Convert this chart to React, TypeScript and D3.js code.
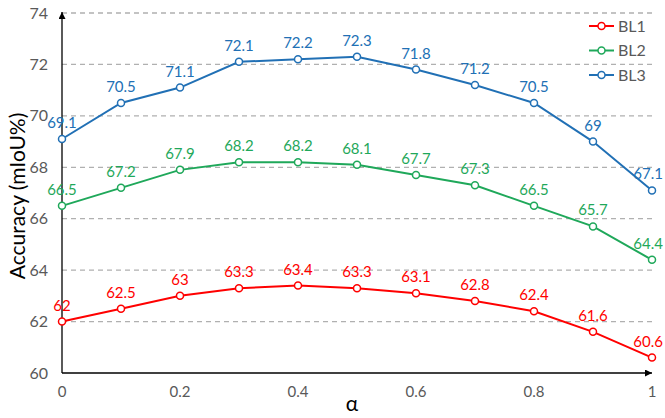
import React from "react";
import * as d3 from "d3";

const alphas = [0, 0.1, 0.2, 0.3, 0.4, 0.5, 0.6, 0.7, 0.8, 0.9, 1];
const bl1 = [62, 62.5, 63, 63.3, 63.4, 63.3, 63.1, 62.8, 62.4, 61.6, 60.6];
const bl2 = [66.5, 67.2, 67.9, 68.2, 68.2, 68.1, 67.7, 67.3, 66.5, 65.7, 64.4];
const bl3 = [69.1, 70.5, 71.1, 72.1, 72.2, 72.3, 71.8, 71.2, 70.5, 69, 67.1];
const seriesNames = ["BL1", "BL2", "BL3"];
const seriesColors = ["#ff0000", "#1fa85a", "#2170b5"];
const yTicks = [60, 62, 64, 66, 68, 70, 72, 74];
const xTicks = [0, 0.2, 0.4, 0.6, 0.8, 1];

export default function App() {
  const W = 665, H = 418;
  const x = d3.scaleLinear().domain([0, 1]).range([62, 652]);
  const y = d3.scaleLinear().domain([60, 74]).range([373, 13]);
  const data = [bl1, bl2, bl3];
  const line = d3.line<number>().x((_, i) => x(alphas[i])).y((v) => y(v));
  const font = "Lato, 'Liberation Sans', sans-serif";
  const fmt = (v: number) => String(v);
  const last = alphas.length - 1;
  return (
    <svg width={W} height={H} style={{ position: "absolute", left: 0, top: 0 }} fontFamily={font}>
      <defs>
        <marker id="arr" viewBox="0 0 10 10" refX="10" refY="5" markerWidth="7" markerHeight="7" markerUnits="userSpaceOnUse" orient="auto">
          <path d="M0,0 L10,5 L0,10 z" fill="#000" />
        </marker>
      </defs>
      <rect width={W} height={H} fill="#fff" />
      {yTicks.map((t) => (
        <g key={t}>
          {t > 60 && (
            <line x1={x(0)} x2={x(1)} y1={y(t)} y2={y(t)} stroke="#b0b0b0" strokeWidth={1.3} strokeDasharray="5,4" />
          )}
          <text x={48} y={y(t)} dy="0.35em" textAnchor="end" fontSize={16} fill="#595959">{t}</text>
        </g>
      ))}
      {xTicks.map((t) => (
        <text key={t} x={x(t)} y={397} textAnchor="middle" fontSize={15} fill="#595959">{fmt(t)}</text>
      ))}
      <line x1={x(0)} x2={x(0)} y1={y(60)} y2={y(74) - 1} stroke="#000" strokeWidth={1.3} markerEnd="url(#arr)" />
      <line x1={x(0)} x2={x(1)} y1={y(60)} y2={y(60)} stroke="#000" strokeWidth={1.3} markerEnd="url(#arr)" />
      <text x={352} y={411} textAnchor="middle" fontSize={21} fill="#000">α</text>
      <text transform={`translate(25,196) rotate(-90)`} textAnchor="middle" fontSize={21} fill="#000">Accuracy (mIoU%)</text>
      {data.map((s, si) => (
        <g key={si}>
          <path d={line(s) || ""} fill="none" stroke={seriesColors[si]} strokeWidth={2} />
          {s.map((v, i) => (
            <circle key={i} cx={x(alphas[i])} cy={y(v)} r={3.5} fill="#fff" stroke={seriesColors[si]} strokeWidth={1.5} />
          ))}
          {s.map((v, i) => (
            <text
              key={"t" + i}
              x={i === last ? W - 2 : x(alphas[i])}
              y={y(v) - 11}
              textAnchor={i === last ? "end" : "middle"}
              fontSize={15}
              fill={seriesColors[si]}
            >
              {fmt(v)}
            </text>
          ))}
        </g>
      ))}
      {seriesNames.map((n, i) => (
        <g key={n} transform={`translate(589,${26 + i * 24.5})`}>
          <line x1={0} x2={25} y1={0} y2={0} stroke={seriesColors[i]} strokeWidth={2} />
          <circle cx={12.5} cy={0} r={3.5} fill="#fff" stroke={seriesColors[i]} strokeWidth={1.5} />
          <text x={29} y={0} dy="0.35em" fontSize={16} fill="#595959">{n}</text>
        </g>
      ))}
    </svg>
  );
}
